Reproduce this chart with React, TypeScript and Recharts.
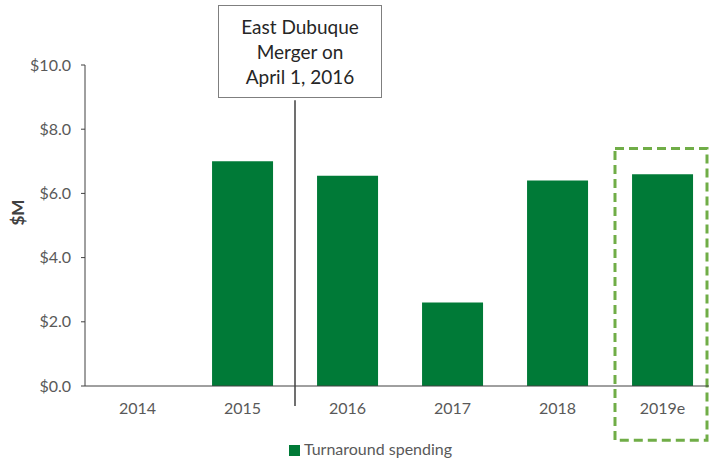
import { Bar, BarChart, XAxis, YAxis, Legend, ReferenceLine, ReferenceArea } from "recharts"

const years = ["2014", "2015", "2016", "2017", "2018", "2019e"]
const spending = [0, 7.0, 6.55, 2.6, 6.4, 6.6]
const yTicks = [0, 2, 4, 6, 8, 10]

const data = years.map((year, i) => ({ year, spending: spending[i] }))

const font = "Lato, 'Open Sans', sans-serif"
const grey = "#595959"
const green = "#007a37"

// dashed frame around the estimate year, a little inside the band
const EstimateFrame = (props: any) => (
  <rect
    x={props.x + 5}
    y={props.y}
    width={props.width - 13}
    height={props.height}
    fill="none"
    stroke="#70ad47"
    strokeWidth={3}
    strokeDasharray="9 5"
  />
)

export default function App() {
  return (
    <div style={{ position: "absolute", left: 0, top: 0, width: 709, height: 464, overflow: "hidden", background: "#fff", fontFamily: font }}>
      <BarChart
        width={720}
        height={464}
        data={data}
        margin={{ top: 65, right: 5, bottom: 6, left: 0 }}
        barCategoryGap="21%"
      >
        <XAxis
          dataKey="year"
          axisLine={{ stroke: "#404040" }}
          tickLine={false}
          tick={{ fill: grey, fontSize: 16, fontFamily: font }}
          tickMargin={11}
          height={53}
        />
        <YAxis
          width={85}
          domain={[0, 10]}
          ticks={yTicks}
          tickFormatter={(v) => `$${v.toFixed(1)}`}
          axisLine={{ stroke: "#404040" }}
          tickLine={{ stroke: "#404040" }}
          tickSize={4}
          tickMargin={10}
          tick={{ fill: grey, fontSize: 16, fontFamily: font }}
          label={{ value: "$M", angle: -90, position: "insideLeft", offset: 18, fill: "#404040", fontSize: 17, fontWeight: "bold", fontFamily: font }}
        />
        <Legend
          verticalAlign="bottom"
          align="center"
          iconType="square"
          iconSize={11}
          wrapperStyle={{ fontSize: 16, fontFamily: font, paddingLeft: 18 }}
          formatter={(value) => <span style={{ color: grey }}>{value}</span>}
        />
        <Bar dataKey="spending" name="Turnaround spending" fill={green} isAnimationActive={false} />
        <ReferenceLine
          position="start"
          segment={[{ x: "2016", y: 8.9 }, { x: "2016", y: -0.62 }]}
          stroke="#404040"
          strokeWidth={1.5}
          ifOverflow="visible"
        />
        <ReferenceArea
          x1="2019e"
          x2="2019e"
          y1={-1.69}
          y2={7.4}
          ifOverflow="visible"
          shape={EstimateFrame}
        />
      </BarChart>
      <div
        style={{
          position: "absolute",
          left: 218,
          top: 5,
          width: 164,
          height: 93,
          border: "1px solid #7f7f7f",
          background: "#fff",
          boxSizing: "border-box",
          display: "flex",
          alignItems: "center",
          justifyContent: "center",
          textAlign: "center",
          fontSize: 19,
          lineHeight: "25px",
          color: "#262626",
        }}
      >
        East Dubuque
        <br />
        Merger on
        <br />
        April 1, 2016
      </div>
    </div>
  )
}
